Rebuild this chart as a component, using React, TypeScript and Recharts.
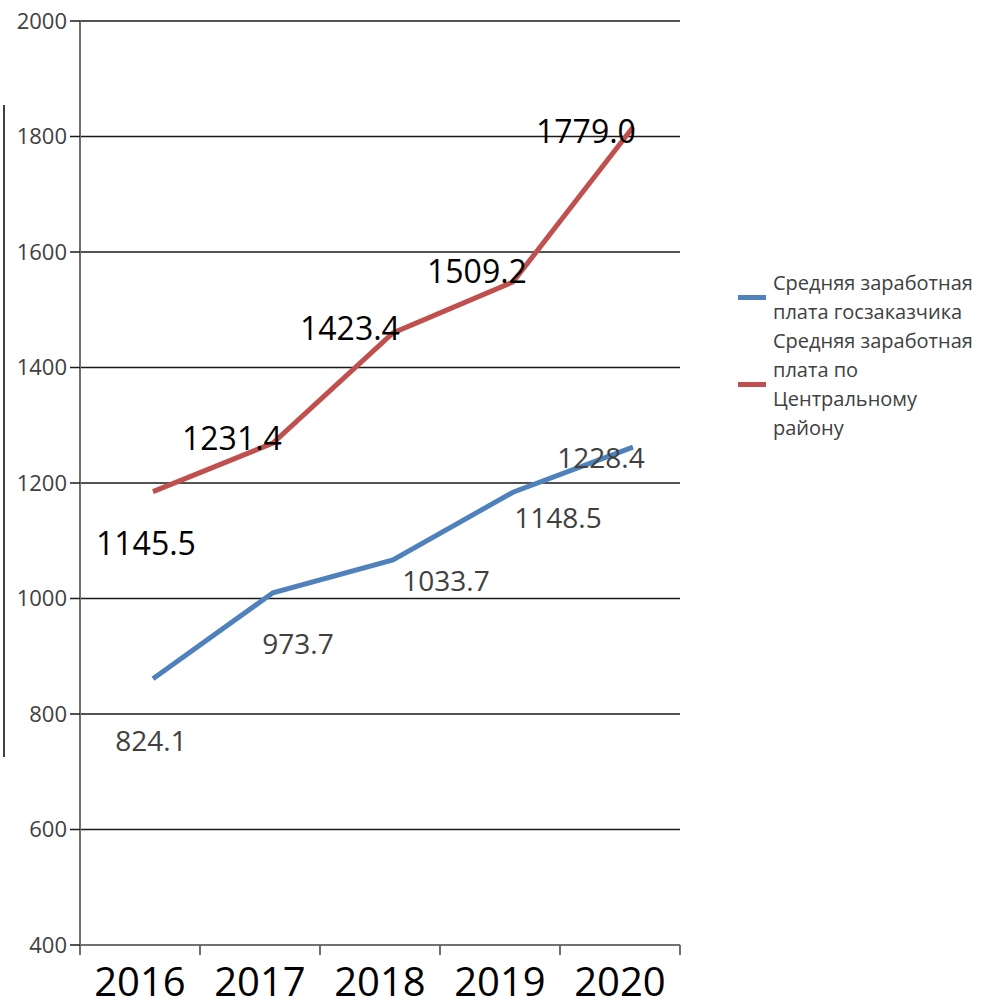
import * as React from 'react';
import {
  LineChart, Line, XAxis, YAxis, CartesianGrid, LabelList,
} from 'recharts';

// years on the category axis
const years = [2016, 2017, 2018, 2019, 2020];
const govPlotted = [861, 1010, 1067, 1184, 1262];
const districtPlotted = [1185, 1269, 1460, 1548, 1816];
// numbers printed next to the points
const govLabels = [824.1, 973.7, 1033.7, 1148.5, 1228.4];
const districtLabels = [1145.5, 1231.4, 1423.4, 1509.2, 1779.0];
const yTicks = [400, 600, 800, 1000, 1200, 1400, 1600, 1800, 2000];
// category boundaries (Excel puts the tick marks between categories)
const frameTicks = [2015.5, 2016.5, 2017.5, 2018.5, 2019.5, 2020.5];

const govName = 'Средняя заработная плата госзаказчика';
const districtName = 'Средняя заработная плата по Центральному району';

const BLUE = '#4F81BD';
const RED = '#C0504D';
const FONT = '"Open Sans", sans-serif';

// label placement relative to each point (Excel-style manual offsets)
const govLabelShift = [[-2, 61], [25, 50], [53, 20], [45, 25], [-32, 10]];
const districtLabelShift = [[-7, 51], [-41, -6], [-43, -5], [-36, -12], [-47, 3]];

const PLOT_W = 600;

const data = years.map((y, i) => ({
  year: y,
  gov: govPlotted[i],
  district: districtPlotted[i],
}));

function makeLabel(texts: number[], shifts: number[][], size: number, color: string) {
  return (props: any) => {
    const { x, y, index } = props;
    const [dx, dy] = shifts[index];
    return (
      <text
        x={x + dx}
        y={y + dy}
        textAnchor="middle"
        dominantBaseline="central"
        fontSize={size}
        fontFamily={FONT}
        fill={color}
      >
        {texts[index].toFixed(1)}
      </text>
    );
  };
}

// year label sits in the middle of each band, right of its boundary tick
const YearTick = (props: any) => {
  const { x, y, payload } = props;
  const yr = Math.round(payload.value + 0.5);
  if (!years.includes(yr)) return <g />;
  const half = PLOT_W / years.length / 2;
  return (
    <text
      x={x + half}
      y={y + 23}
      textAnchor="middle"
      dominantBaseline="central"
      fontSize={40}
      fontFamily={FONT}
      fill="#000"
    >
      {yr}
    </text>
  );
};

const legendItems = [
  { color: BLUE, lines: ['Средняя заработная', 'плата госзаказчика'] },
  { color: RED, lines: ['Средняя заработная', 'плата по', 'Центральному', 'району'] },
];

export default function App() {
  return (
    <div style={{ position: 'absolute', left: 0, top: 0, width: 982, height: 1008, background: '#fff' }}>
      <LineChart
        width={982}
        height={1008}
        data={data}
        margin={{ top: 21, right: 302, bottom: 3, left: 10 }}
      >
        <CartesianGrid
          xAxisId="frame"
          vertical={false}
          stroke="#1a1a1a"
          strokeWidth={1.5}
        />
        <XAxis
          xAxisId="frame"
          type="number"
          dataKey="year"
          domain={[2015.5, 2020.5]}
          allowDataOverflow
          ticks={frameTicks}
          height={60}
          tick={<YearTick />}
          tickSize={10}
          interval={0}
          axisLine={{ stroke: '#6f6f6f', strokeWidth: 2 }}
          tickLine={{ stroke: '#6f6f6f', strokeWidth: 2 }}
        />
        <XAxis
          xAxisId="pts"
          type="number"
          dataKey="year"
          domain={[2015.392, 2020.392]}
          allowDataOverflow
          hide
        />
        <YAxis
          domain={[400, 2000]}
          ticks={yTicks}
          width={70}
          tickSize={10}
          tickMargin={3}
          axisLine={{ stroke: '#6f6f6f', strokeWidth: 2 }}
          tickLine={{ stroke: '#1a1a1a', strokeWidth: 1.5 }}
          tick={{ fontSize: 22, fill: '#404040', fontFamily: FONT }}
        />
        <Line
          xAxisId="pts"
          dataKey="gov"
          name={govName}
          stroke={BLUE}
          strokeWidth={5}
          dot={false}
          isAnimationActive={false}
        >
          <LabelList content={makeLabel(govLabels, govLabelShift, 28, '#404040')} />
        </Line>
        <Line
          xAxisId="pts"
          dataKey="district"
          name={districtName}
          stroke={RED}
          strokeWidth={5}
          dot={false}
          isAnimationActive={false}
        >
          <LabelList content={makeLabel(districtLabels, districtLabelShift, 32, '#000')} />
        </Line>
      </LineChart>

      {/* legend on the right */}
      <div
        style={{
          position: 'absolute',
          left: 738,
          top: 268,
          fontFamily: FONT,
          fontSize: 20,
          lineHeight: '29px',
          color: '#404040',
        }}
      >
        {legendItems.map(item => (
          <div key={item.color} style={{ display: 'flex', alignItems: 'center' }}>
            <div style={{ width: 28, height: 5, background: item.color, marginRight: 7 }} />
            <div style={{ whiteSpace: 'nowrap' }}>
              {item.lines.map(l => <div key={l}>{l}</div>)}
            </div>
          </div>
        ))}
      </div>

      {/* clipped edge of an axis title on the far left */}
      <div style={{ position: 'absolute', left: 3, top: 105, width: 2, height: 652, background: '#404040' }} />
    </div>
  );
}
